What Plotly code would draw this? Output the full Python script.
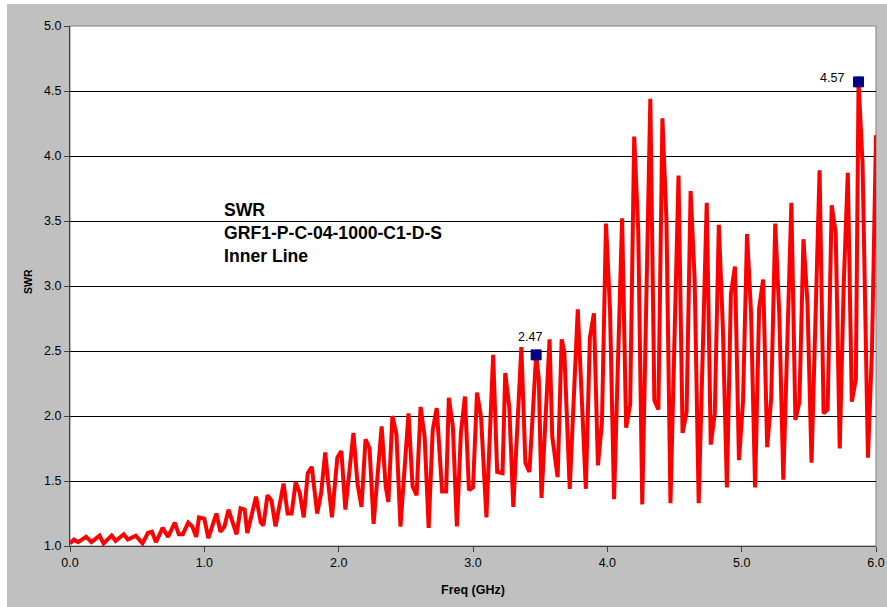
import plotly.graph_objects as go

freq = [0.00, 0.03, 0.06, 0.12, 0.16, 0.22, 0.25, 0.31, 0.34, 0.40, 0.43, 0.49, 0.54, 0.58, 0.61,
        0.64, 0.69, 0.73, 0.78, 0.81, 0.84, 0.88, 0.91, 0.94, 0.96, 1.00, 1.03, 1.09, 1.12, 1.15,
        1.18, 1.21, 1.24, 1.27, 1.30, 1.32, 1.385, 1.42, 1.44, 1.47, 1.50, 1.53, 1.59, 1.62, 1.65,
        1.68, 1.71, 1.74, 1.77, 1.80, 1.84, 1.87, 1.90, 1.92, 1.95, 1.99, 2.02, 2.05, 2.11, 2.14,
        2.17, 2.20, 2.23, 2.26, 2.32, 2.35, 2.37, 2.40, 2.43, 2.46, 2.52, 2.55, 2.58, 2.61, 2.64,
        2.67, 2.70, 2.73, 2.77, 2.80, 2.82, 2.85, 2.88, 2.91, 2.94, 2.97, 3.00, 3.03, 3.06, 3.10,
        3.15, 3.18, 3.22, 3.24, 3.27, 3.30, 3.36, 3.39, 3.42, 3.47, 3.49, 3.51, 3.57, 3.59, 3.63,
        3.66, 3.68, 3.72, 3.78, 3.84, 3.87, 3.90, 3.93, 3.96, 3.99, 4.02, 4.05, 4.11, 4.14, 4.17,
        4.20, 4.23, 4.26, 4.32, 4.35, 4.38, 4.41, 4.44, 4.47, 4.53, 4.56, 4.59, 4.62, 4.65, 4.68,
        4.74, 4.77, 4.80, 4.83, 4.86, 4.89, 4.92, 4.95, 4.98, 5.01, 5.04, 5.07, 5.10, 5.13, 5.16,
        5.19, 5.22, 5.25, 5.28, 5.31, 5.37, 5.40, 5.43, 5.46, 5.49, 5.52, 5.58, 5.61, 5.64, 5.67,
        5.70, 5.73, 5.76, 5.79, 5.82, 5.85, 5.87, 5.90, 5.94, 5.97, 6.00]
swr = [1.02, 1.05, 1.03, 1.07, 1.03, 1.08, 1.02, 1.08, 1.04, 1.09, 1.05, 1.08, 1.02, 1.10, 1.11,
       1.03, 1.14, 1.07, 1.18, 1.09, 1.09, 1.18, 1.15, 1.07, 1.22, 1.21, 1.06, 1.25, 1.11, 1.15,
       1.28, 1.18, 1.09, 1.29, 1.28, 1.10, 1.38, 1.18, 1.16, 1.39, 1.35, 1.15, 1.48, 1.25, 1.25,
       1.49, 1.41, 1.22, 1.56, 1.61, 1.25, 1.41, 1.72, 1.51, 1.22, 1.68, 1.73, 1.28, 1.87, 1.48,
       1.30, 1.82, 1.75, 1.17, 1.92, 1.46, 1.34, 2.00, 1.86, 1.15, 2.02, 1.46, 1.39, 2.07, 1.84,
       1.14, 1.89, 2.06, 1.42, 1.42, 2.14, 1.92, 1.15, 1.87, 2.15, 1.43, 1.45, 2.18, 1.99, 1.22,
       2.47, 1.57, 1.56, 2.33, 2.07, 1.30, 2.53, 1.64, 1.57, 2.47, 2.28, 1.37, 2.59, 1.84, 1.53,
       2.59, 2.49, 1.44, 2.82, 1.44, 2.60, 2.79, 1.62, 1.95, 3.48, 2.82, 1.36, 3.52, 1.91, 2.09,
       4.15, 3.43, 1.32, 4.44, 2.12, 2.05, 4.29, 3.51, 1.33, 3.85, 1.87, 2.03, 3.73, 3.05, 1.33,
       3.64, 1.78, 2.02, 3.47, 2.68, 1.45, 2.94, 3.15, 1.66, 2.11, 3.40, 2.79, 1.45, 2.83, 3.05,
       1.76, 2.14, 3.48, 2.79, 1.51, 3.64, 1.97, 2.11, 3.36, 2.87, 1.64, 3.89, 2.02, 2.05, 3.62,
       3.41, 1.75, 3.02, 3.87, 2.11, 2.28, 4.57, 3.94, 1.68, 2.51, 4.16]

marker_freq = [3.47, 5.87]
marker_swr = [2.47, 4.57]
marker_labels = ["2.47", "4.57"]

title_lines = ["SWR", "GRF1-P-C-04-1000-C1-D-S", "Inner Line"]
x_ticks = [0, 1, 2, 3, 4, 5, 6]
y_ticks = [1.0, 1.5, 2.0, 2.5, 3.0, 3.5, 4.0, 4.5, 5.0]

FONT = "Liberation Sans, Arial, sans-serif"

fig = go.Figure()
fig.add_trace(go.Scatter(x=freq, y=swr, mode="lines",
                         line=dict(color="#ff0000", width=4), hoverinfo="skip"))
fig.add_trace(go.Scatter(x=marker_freq, y=marker_swr, mode="markers",
                         marker=dict(symbol="square", size=10, color="#000080",
                                     line=dict(color="#000080", width=1))))

# plot area geometry (px): left 70, right 876, top 26, bottom 546
L, R, T, B = 70, 876, 26, 546
W, H = R - L, B - T

def px(x):
    return (x - L) / W

def py(y):
    return (B - y) / H

shapes = [
    dict(type="rect", xref="paper", yref="paper", x0=px(7), x1=px(900), y0=py(620), y1=py(4),
         fillcolor="#c0c0c0", line=dict(width=0), layer="below"),
    dict(type="rect", xref="paper", yref="paper", x0=0, x1=1, y0=0, y1=1,
         fillcolor="#ffffff", line=dict(color="#808080", width=1), layer="below"),
]

annotations = []
for i, t in enumerate(title_lines):
    annotations.append(dict(x=px(222), y=py(210 + 23 * i), xref="paper", yref="paper",
                            text="<b>%s</b>" % t, showarrow=False, xanchor="left",
                            yanchor="middle", font=dict(family=FONT, size=17.6, color="#000000")))

annotations.append(dict(x=marker_freq[0], y=marker_swr[0], text=marker_labels[0], showarrow=False,
                        xanchor="right", yanchor="middle", xshift=8, yshift=18,
                        font=dict(family=FONT, size=12.5, color="#000000")))
annotations.append(dict(x=marker_freq[1], y=marker_swr[1], text=marker_labels[1], showarrow=False,
                        xanchor="right", yanchor="middle", xshift=-13, yshift=4,
                        font=dict(family=FONT, size=12.5, color="#000000")))

annotations.append(dict(x=px(473), y=py(590), xref="paper", yref="paper", text="<b>Freq (GHz)</b>",
                        showarrow=False, xanchor="center", yanchor="middle",
                        font=dict(family=FONT, size=12.5, color="#000000")))
annotations.append(dict(x=px(28), y=py(282), xref="paper", yref="paper", text="<b>SWR</b>",
                        showarrow=False, xanchor="center", yanchor="middle", textangle=-90,
                        font=dict(family=FONT, size=10.5, color="#000000")))

fig.update_layout(
    width=887, height=607,
    margin=dict(l=L, r=887 - R, t=T, b=607 - B, pad=0, autoexpand=False),
    paper_bgcolor="#ffffff", plot_bgcolor="#ffffff",
    showlegend=False,
    shapes=shapes, annotations=annotations,
    font=dict(family=FONT, size=12.5, color="#000000"),
)
fig.update_xaxes(range=[0, 6], tickvals=x_ticks, tickformat=".1f", showgrid=False,
                 zeroline=False, showline=True, linecolor="#404040", linewidth=1,
                 ticks="outside", ticklen=5, tickcolor="#404040", automargin=False,
                 ticklabeloverflow="allow",
                 tickfont=dict(family=FONT, size=12.5, color="#000000"))
fig.update_yaxes(range=[1, 5], tickvals=y_ticks, tickformat=".1f", showgrid=True,
                 gridcolor="#000000", gridwidth=1, zeroline=False, showline=True,
                 linecolor="#404040", linewidth=1, ticks="outside", ticklen=5, automargin=False,
                 tickcolor="#404040", tickfont=dict(family=FONT, size=12.5, color="#000000"))

fig.write_html("out.html")
